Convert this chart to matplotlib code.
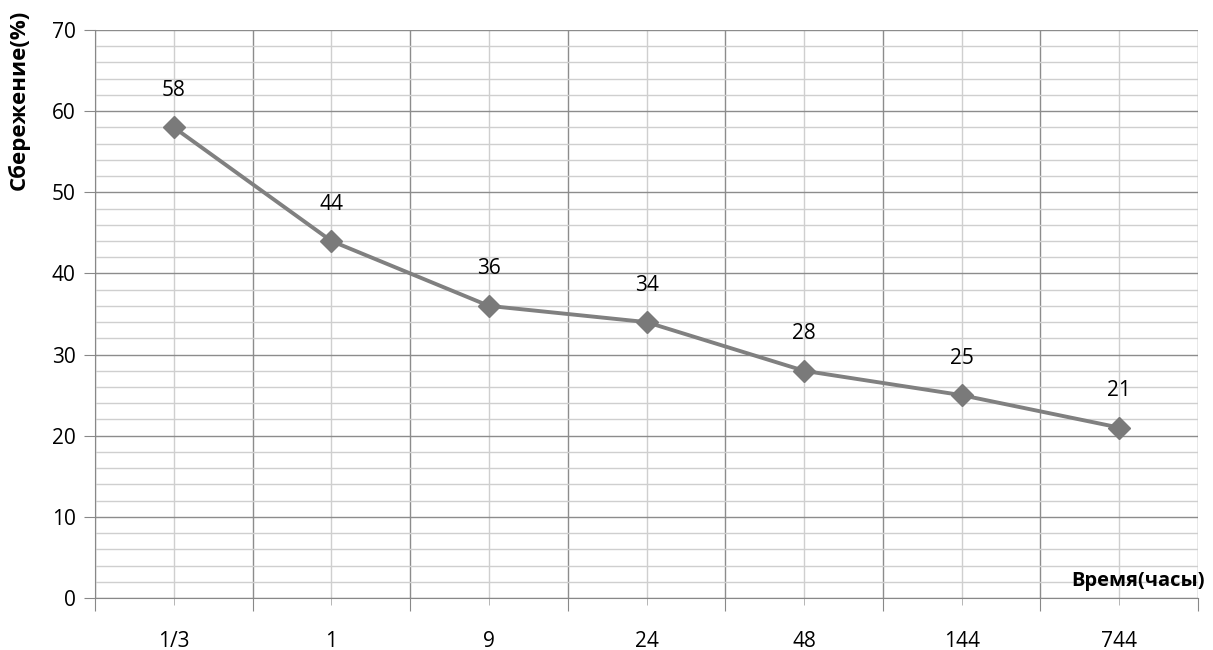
import numpy as np
import matplotlib.pyplot as plt
from matplotlib.ticker import MultipleLocator, FixedLocator

hours = ["1/3", "1", "9", "24", "48", "144", "744"]
saving = [58, 44, 36, 34, 28, 25, 21]

plt.rcParams["font.family"] = ["Open Sans", "DejaVu Sans"]

fig = plt.figure(figsize=(12.13, 6.5), dpi=100)
ax = fig.add_axes([95 / 1213, 1 - 598 / 650, (1198 - 95) / 1213, (598 - 30) / 650])

x = np.arange(len(hours))
ax.plot(x, saving, color="#808080", lw=2.8, marker="D", ms=11,
        markerfacecolor="#7a7a7a", markeredgecolor="#7a7a7a", zorder=3)
for xi, v in zip(x, saving):
    ax.annotate(str(v), (xi, v), xytext=(0, 19), textcoords="offset points",
                ha="center", va="bottom", fontsize=15)

ax.set_xlim(-0.5, len(hours) - 0.5)
ax.set_ylim(0, 70)

# category boundaries are the major x ticks, categories sit on minor ones
ax.xaxis.set_major_locator(FixedLocator(np.arange(len(hours) + 1) - 0.5))
ax.xaxis.set_minor_locator(FixedLocator(x))
ax.set_xticklabels([])
ax.set_xticks(x, minor=True)
ax.set_xticklabels(hours, minor=True, fontsize=15)
ax.yaxis.set_major_locator(MultipleLocator(10))
ax.yaxis.set_minor_locator(MultipleLocator(2))
ax.tick_params(axis="y", which="major", labelsize=15, length=8, color="#888888", pad=6)
ax.tick_params(axis="y", which="minor", length=0)
ax.tick_params(axis="x", which="major", length=9, color="#888888")
ax.tick_params(axis="x", which="minor", length=5, color="#aaaaaa", pad=19)

ax.grid(which="major", color="#8c8c8c", lw=1.0)
ax.grid(which="minor", color="#cfcfcf", lw=1.0)
ax.set_axisbelow(True)

for side in ("top", "right"):
    ax.spines[side].set_visible(False)
for side in ("left", "bottom"):
    ax.spines[side].set_color("#888888")

ax.text(1.006, 0.012, "Время(часы)", transform=ax.transAxes, ha="right", va="bottom",
        fontsize=14.5, fontweight="bold")
fig.text(19 / 1213, 1 - 100 / 650, "Сбережение(%)", rotation=90, ha="center", va="center",
         fontsize=16, fontweight="bold")

fig.savefig("out.png", dpi=100)
